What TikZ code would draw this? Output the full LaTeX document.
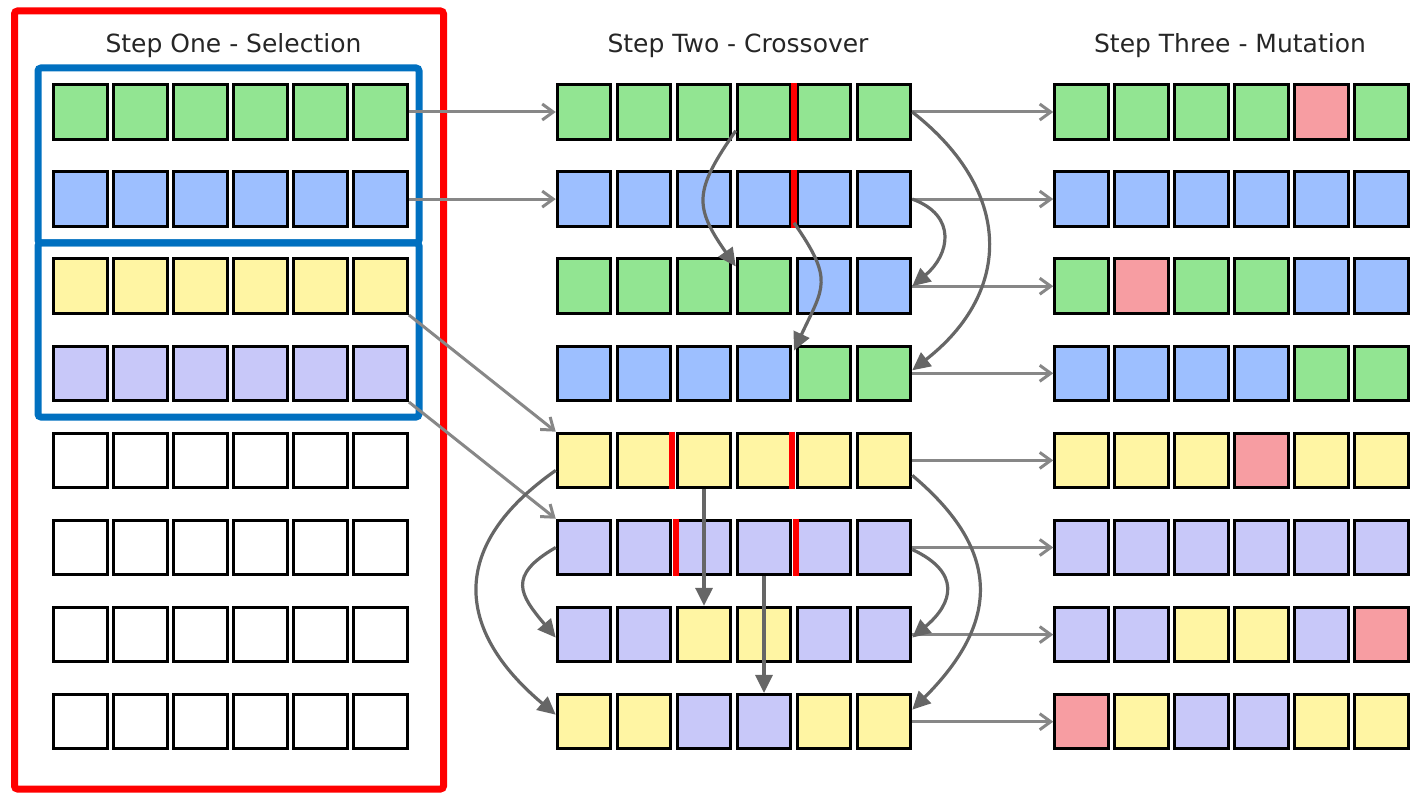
\documentclass[tikz,border=0pt]{standalone}
\usepackage{fontspec}
\setmainfont{DejaVu Sans}
\usetikzlibrary{arrows.meta,calc}
\definecolor{cg}{HTML}{92E592}
\definecolor{cb}{HTML}{9DBFFF}
\definecolor{cy}{HTML}{FFF5A3}
\definecolor{cv}{HTML}{C8C8F9}
\definecolor{cp}{HTML}{F79DA2}
\definecolor{cw}{HTML}{FFFFFF}
\definecolor{frameblue}{HTML}{0070C0}
\definecolor{titlegray}{HTML}{262626}
\tikzset{
  cellbox/.style={draw=black, line width=3pt, minimum width=53.5pt, minimum height=54.5pt, inner sep=0pt},
  copyline/.style={draw=black!47, line width=3pt, -{Straight Barb[length=11pt,width=16pt]}},
  crossarc/.style={draw=black!60, line width=3.2pt, -{Triangle[length=18pt,width=17pt]}},
  cutmark/.style={draw=red, line width=6pt},
  steptitle/.style={font=\fontsize{25}{30}\selectfont, text=titlegray, anchor=base}
}
\begin{document}
\begin{tikzpicture}[x=1pt,y=1pt]
    \useasboundingbox (0,0) rectangle (1410,-794);
    \foreach \r/\row in {1/{cg,cg,cg,cg,cg,cg},2/{cb,cb,cb,cb,cb,cb},3/{cy,cy,cy,cy,cy,cy},4/{cv,cv,cv,cv,cv,cv},
                         5/{cw,cw,cw,cw,cw,cw},6/{cw,cw,cw,cw,cw,cw},7/{cw,cw,cw,cw,cw,cw},8/{cw,cw,cw,cw,cw,cw}}
      \foreach \f [count=\c] in \row
        \node[cellbox, fill=\f] (L\r-\c) at ({80.7+60*(\c-1)},{-112-87.1*(\r-1)}) {};
    \foreach \r/\row in {1/{cg,cg,cg,cg,cg,cg},2/{cb,cb,cb,cb,cb,cb},3/{cg,cg,cg,cg,cb,cb},4/{cb,cb,cb,cb,cg,cg},
                         5/{cy,cy,cy,cy,cy,cy},6/{cv,cv,cv,cv,cv,cv},7/{cv,cv,cy,cy,cv,cv},8/{cy,cy,cv,cv,cy,cy}}
      \foreach \f [count=\c] in \row
        \node[cellbox, fill=\f] (M\r-\c) at ({584+60*(\c-1)},{-112-87.1*(\r-1)}) {};
    \foreach \r/\row in {1/{cg,cg,cg,cg,cp,cg},2/{cb,cb,cb,cb,cb,cb},3/{cg,cp,cg,cg,cb,cb},4/{cb,cb,cb,cb,cg,cg},
                         5/{cy,cy,cy,cp,cy,cy},6/{cv,cv,cv,cv,cv,cv},7/{cv,cv,cy,cy,cv,cp},8/{cp,cy,cv,cv,cy,cy}}
      \foreach \f [count=\c] in \row
        \node[cellbox, fill=\f] (R\r-\c) at ({1081.5+60*(\c-1)},{-112-87.1*(\r-1)}) {};

    \draw[red, line width=7pt, rounded corners=3pt] (14.5,-11) rectangle (443.5,-789);
    \draw[frameblue, line width=7pt, rounded corners=3pt] (38,-68) rectangle (419,-243);
    \draw[frameblue, line width=7pt, rounded corners=3pt] (38,-243) rectangle (419,-417);

    \node[steptitle] (title1) at (233.5,-53) {Step One - Selection};
    \node[steptitle] (title2) at (738,-53) {Step Two - Crossover};
    \node[steptitle] (title3) at (1230,-53) {Step Three - Mutation};

    \foreach \r in {1,2}
      \draw[copyline] (L\r-6.east) -- (M\r-1.west);
    \draw[copyline] (L3-6.south east) -- (M5-1.north west);
    \draw[copyline] (L4-6.south east) -- (M6-1.north west);
    \foreach \r in {1,...,8}
      \draw[copyline] (M\r-6.east) -- (R\r-1.west);

    \foreach \r in {1,2}
      \draw[cutmark] ($(M\r-4.north east)!.5!(M\r-5.north west)$) -- ($(M\r-4.south east)!.5!(M\r-5.south west)$);
    \draw[cutmark] (M5-2.north east) -- (M5-2.south east);
    \draw[cutmark] (M5-4.north east) -- (M5-4.south east);
    \draw[cutmark] (M6-3.north west) -- (M6-3.south west);
    \draw[cutmark] (M6-5.north west) -- (M6-5.south west);

    \draw[crossarc] ([yshift=10pt]M1-4.south west) to[out=-125,in=125,looseness=1.38] ([yshift=-9pt]M3-4.north west);
    \draw[crossarc] ([yshift=5pt]$(M2-4.south east)!.5!(M2-5.south west)$) to[out=-55,in=65,looseness=1.41] ([yshift=-6pt]$(M4-4.north east)!.5!(M4-5.north west)$);
    \draw[crossarc] (M1-6.east) to[out=-38,in=38,looseness=1.27] ([yshift=3pt]M4-6.east);
    \draw[crossarc] (M2-6.east) to[out=-20,in=40,looseness=1.43] (M3-6.east);
    \draw[crossarc] ([yshift=-10pt]M5-1.west) to[out=-145,in=140,looseness=1.38] ([yshift=7pt]M8-1.west);
    \draw[crossarc] (M6-1.west) to[out=-150,in=130,looseness=1.6] ([yshift=-3pt]M7-1.west);
    \draw[crossarc] ([yshift=-15pt]M5-6.east) to[out=-40,in=45,looseness=1.32] ([yshift=12pt]M8-6.east);
    \draw[crossarc] ([yshift=-2pt]M6-6.east) to[out=-25,in=40,looseness=1.57] ([yshift=-3pt]M7-6.east);
    \draw[crossarc] (M5-3.south) -- (M7-3.north);
    \draw[crossarc] (M6-4.south) -- (M8-4.north);
\end{tikzpicture}
\end{document}
